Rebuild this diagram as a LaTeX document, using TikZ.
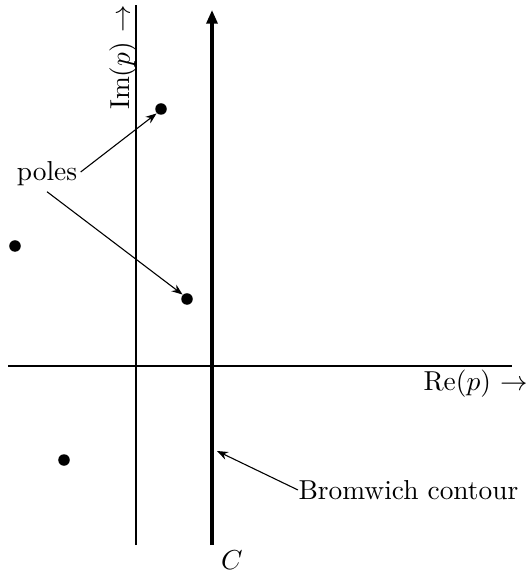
\documentclass[tikz,border=0pt]{standalone}
\usetikzlibrary{arrows.meta}
\begin{document}
\begin{tikzpicture}[x=0.365pt,y=-0.365pt,
  axis/.style={line width=0.5pt},
  contour/.style={line width=1.2pt,-{Triangle[length=5pt,width=4pt]}},
  pointer/.style={line width=0.4pt,-{Stealth[length=4pt,width=3pt]}},
  pole/.style={circle,fill=black,inner sep=0pt,minimum size=4.2pt},
  lbl/.style={inner sep=0pt}]
\useasboundingbox (0,0) rectangle (528,575);
% axes
\coordinate (iy0) at (136,545);
\coordinate (iy1) at (136,5);
\coordinate (rx0) at (8,366);
\coordinate (rx1) at (512,366);
\draw[axis] (iy0) -- (iy1);
\draw[axis] (rx0) -- (rx1);
\node[lbl,anchor=east] (re) at (528,384) {Re$(p)$ $\rightarrow$};
\node[lbl,rotate=90,anchor=east] (im) at (123,5) {Im$(p)$ $\rightarrow$};
% Bromwich contour
\coordinate (c0) at (212,545);
\coordinate (c1) at (212,10);
\draw[contour] (c0) -- (c1);
\node[lbl] (C) at (232,560) {$C$};
% poles
\node[pole] (p1) at (161,109) {};
\node[pole] (p2) at (187,299) {};
\node[pole] (p3) at (15,246) {};
\node[pole] (p4) at (64,460) {};
\node[lbl] (poles) at (47,174) {poles};
\draw[pointer] (poles.east) ++(3,-2) -- (p1.south west);
\draw[pointer] (poles.south) ++(0,5) -- (p2.north west);
\node[lbl,anchor=west] (brom) at (298,490) {Bromwich contour};
\coordinate (bt) at (217,451);
\draw[pointer] (brom.west) -- (bt);
\end{tikzpicture}
\end{document}
